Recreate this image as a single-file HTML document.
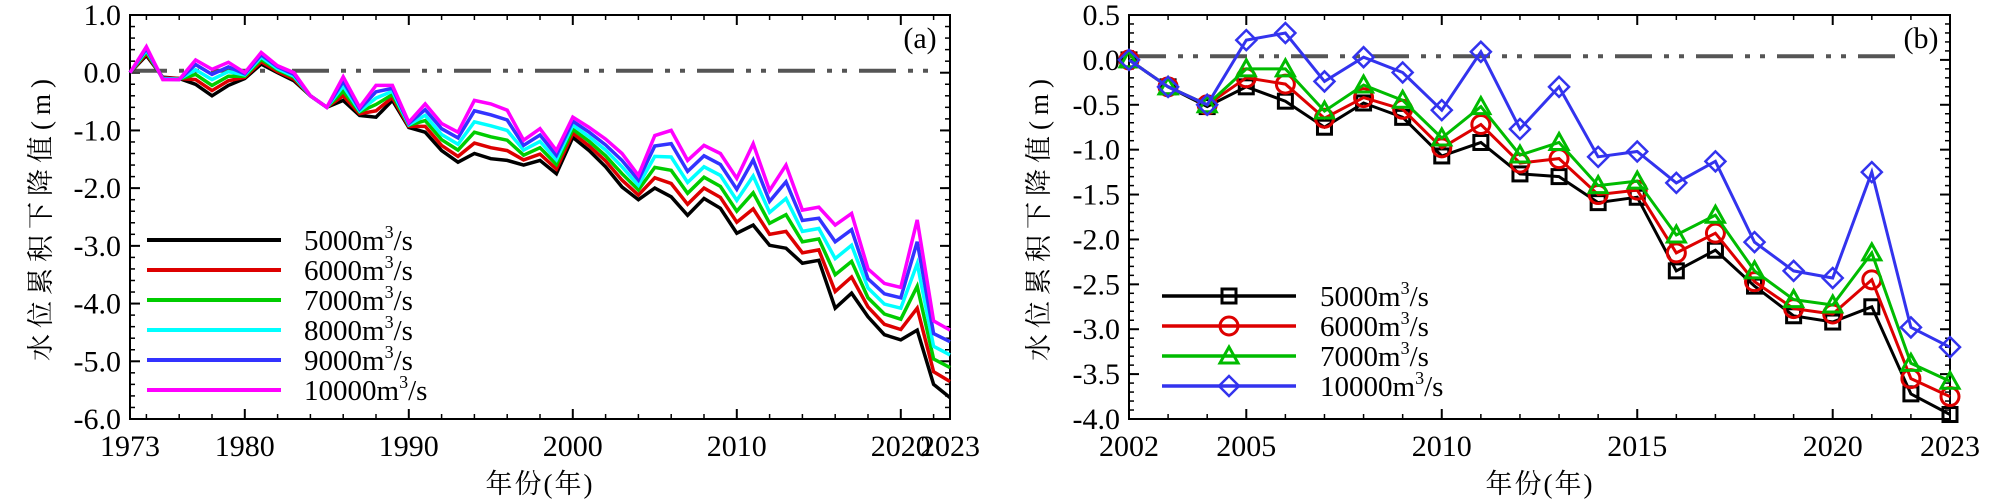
<!DOCTYPE html>
<html><head><meta charset="utf-8"><style>
html,body{margin:0;padding:0;background:#fff;}
svg{display:block;}
svg text{font-family:"Liberation Serif","Noto Serif CJK SC","DejaVu Serif",serif;}
</style></head><body>
<svg id="chart" width="2000" height="500" viewBox="0 0 2000 500"></svg>
<script>
const yearsA=[];for(let y=1973;y<=2023;y++)yearsA.push(y);
const a5000=[0,0.3,-0.08,-0.1,-0.2,-0.4,-0.22,-0.1,0.15,0,-0.14,-0.4,-0.6,-0.48,-0.74,-0.77,-0.48,-0.95,-1.03,-1.35,-1.55,-1.4,-1.49,-1.52,-1.6,-1.52,-1.75,-1.12,-1.35,-1.63,-1.98,-2.2,-2.0,-2.15,-2.47,-2.18,-2.35,-2.78,-2.64,-2.99,-3.04,-3.3,-3.25,-4.08,-3.82,-4.23,-4.54,-4.63,-4.46,-5.4,-5.63];
const a6000=[0,0.33,-0.09,-0.1,-0.12,-0.31,-0.14,-0.08,0.19,0.02,-0.11,-0.4,-0.6,-0.4,-0.71,-0.66,-0.43,-0.93,-0.93,-1.26,-1.45,-1.22,-1.3,-1.35,-1.51,-1.41,-1.67,-1.05,-1.27,-1.53,-1.86,-2.12,-1.82,-1.92,-2.28,-2.0,-2.16,-2.59,-2.36,-2.8,-2.75,-3.12,-3.07,-3.79,-3.54,-4.06,-4.36,-4.45,-4.08,-5.18,-5.35];
const a7000=[0,0.36,-0.1,-0.11,-0.03,-0.22,-0.06,-0.06,0.23,0.05,-0.08,-0.4,-0.6,-0.32,-0.68,-0.55,-0.38,-0.91,-0.83,-1.16,-1.34,-1.03,-1.11,-1.17,-1.43,-1.3,-1.59,-0.98,-1.19,-1.44,-1.75,-2.03,-1.64,-1.69,-2.09,-1.81,-1.97,-2.4,-2.08,-2.61,-2.46,-2.93,-2.88,-3.5,-3.27,-3.9,-4.18,-4.27,-3.7,-4.96,-5.11];
const a8000=[0,0.39,-0.1,-0.11,0.05,-0.12,0.02,-0.04,0.27,0.07,-0.06,-0.4,-0.6,-0.23,-0.66,-0.44,-0.32,-0.9,-0.74,-1.07,-1.24,-0.85,-0.92,-1.0,-1.34,-1.19,-1.51,-0.91,-1.11,-1.34,-1.63,-1.95,-1.45,-1.46,-1.9,-1.63,-1.78,-2.21,-1.79,-2.42,-2.18,-2.75,-2.7,-3.22,-2.99,-3.73,-4.01,-4.08,-3.31,-4.74,-4.89];
const a9000=[0,0.42,-0.11,-0.12,0.14,-0.03,0.1,-0.02,0.31,0.1,-0.03,-0.4,-0.6,-0.15,-0.63,-0.33,-0.27,-0.88,-0.64,-0.97,-1.13,-0.66,-0.73,-0.82,-1.26,-1.08,-1.43,-0.84,-1.03,-1.25,-1.52,-1.86,-1.27,-1.23,-1.71,-1.44,-1.59,-2.02,-1.51,-2.23,-1.89,-2.56,-2.52,-2.93,-2.72,-3.57,-3.83,-3.9,-2.93,-4.52,-4.66];
const a10000=[0,0.45,-0.12,-0.12,0.22,0.06,0.18,0,0.35,0.12,0,-0.4,-0.6,-0.07,-0.6,-0.22,-0.22,-0.86,-0.54,-0.88,-1.03,-0.48,-0.54,-0.65,-1.17,-0.97,-1.35,-0.77,-0.95,-1.15,-1.4,-1.78,-1.09,-1.0,-1.52,-1.26,-1.4,-1.83,-1.23,-2.04,-1.6,-2.38,-2.33,-2.64,-2.44,-3.4,-3.65,-3.72,-2.55,-4.3,-4.46];
const seriesAColors=["#000000","#dd0000","#00cc00","#00ffff","#3333ff","#ff00ff"];
const seriesALabels=["5000","6000","7000","8000","9000","10000"];
const yTicksA=[1,0,-1,-2,-3,-4,-5,-6];
const yTickLabelsA=["1.0","0.0","-1.0","-2.0","-3.0","-4.0","-5.0","-6.0"];
const xTicksA=[1973,1980,1990,2000,2010,2020,2023];

const yearsB=[];for(let y=2002;y<=2023;y++)yearsB.push(y);
const b5000=[0,-0.3,-0.52,-0.3,-0.46,-0.75,-0.48,-0.64,-1.07,-0.92,-1.27,-1.3,-1.59,-1.53,-2.35,-2.12,-2.52,-2.85,-2.92,-2.75,-3.72,-3.95];
const b6000=[0,-0.3,-0.5,-0.2,-0.27,-0.65,-0.42,-0.55,-0.98,-0.72,-1.15,-1.1,-1.5,-1.45,-2.15,-1.93,-2.47,-2.77,-2.83,-2.45,-3.55,-3.75];
const b7000=[0,-0.3,-0.5,-0.1,-0.1,-0.57,-0.28,-0.45,-0.87,-0.52,-1.06,-0.92,-1.4,-1.35,-1.95,-1.73,-2.35,-2.67,-2.73,-2.15,-3.38,-3.58];
const b10000=[0,-0.3,-0.5,0.22,0.3,-0.24,0.03,-0.14,-0.56,0.09,-0.77,-0.3,-1.08,-1.02,-1.37,-1.13,-2.03,-2.35,-2.43,-1.25,-2.98,-3.2];
const seriesBColors=["#000000","#dd0000","#00bb00","#3333ee"];
const seriesBLabels=["5000","6000","7000","10000"];
const seriesBMarkers=["square","circle","triangle","diamond"];
const yTicksB=[0.5,0,-0.5,-1,-1.5,-2,-2.5,-3,-3.5,-4];
const yTickLabelsB=["0.5","0.0","-0.5","-1.0","-1.5","-2.0","-2.5","-3.0","-3.5","-4.0"];
const xTicksB=[2002,2005,2010,2015,2020,2023];

const NS="http://www.w3.org/2000/svg";
const FONT='"Liberation Serif","Noto Serif CJK SC","DejaVu Serif",serif';
const svg=document.getElementById("chart");
function mk(tag,attrs,parent){const e=document.createElementNS(NS,tag);for(const k in attrs)e.setAttribute(k,attrs[k]);if(tag==="text")e.setAttribute("font-family",FONT);(parent||svg).appendChild(e);return e;}

const A={x0:130,x1:950,y0:15,y1:419,ymin:-6,ymax:1,xmin:1973,xmax:2023};
const B={x0:1129,x1:1950,y0:15,y1:419,ymin:-4,ymax:0.5,xmin:2002,xmax:2023};
function sx(P,v){return P.x0+(v-P.xmin)/(P.xmax-P.xmin)*(P.x1-P.x0);}
function sy(P,v){return P.y1-(v-P.ymin)/(P.ymax-P.ymin)*(P.y1-P.y0);}

function drawAxes(P,ytv,ytl,yminor,xtv,xminorStep,xmajorStep,name){
  const g=mk("g",{});
  
  
  for(let v=P.ymin;v<=P.ymax+1e-9;v+=yminor){const y=sy(P,v);mk("line",{x1:P.x0,x2:P.x0+5,y1:y,y2:y,stroke:"#000","stroke-width":1.5},g);mk("line",{x1:P.x1,x2:P.x1-5,y1:y,y2:y,stroke:"#000","stroke-width":1.5},g);}
  ytv.forEach((v,i)=>{const y=sy(P,v);
    mk("line",{x1:P.x0,x2:P.x0+10,y1:y,y2:y,stroke:"#000","stroke-width":2},g);
    mk("line",{x1:P.x1,x2:P.x1-10,y1:y,y2:y,stroke:"#000","stroke-width":2},g);
    const t=mk("text",{x:P.x0-9,y:y+10,"text-anchor":"end","font-size":30},g);t.textContent=ytl[i];
    
    
  });
  for(let v=P.xmin;v<=P.xmax;v++){
    const isMajor=(v%xmajorStep===0);
    if(v%xminorStep!==0&&!isMajor)continue;
    const x=sx(P,v),len=isMajor?10:5;
    mk("line",{x1:x,x2:x,y1:P.y1,y2:P.y1-len,stroke:"#000","stroke-width":isMajor?2:1.5},g);
    mk("line",{x1:x,x2:x,y1:P.y0,y2:P.y0+len,stroke:"#000","stroke-width":isMajor?2:1.5},g);
  }
  xtv.forEach(v=>{const t=mk("text",{x:sx(P,v),y:P.y1+37,"text-anchor":"middle","font-size":30},g);t.textContent=String(v);
    
    });
  const r=mk("rect",{x:P.x0,y:P.y0,width:P.x1-P.x0,height:P.y1-P.y0,fill:"none",stroke:"#000","stroke-width":2},g);
  
  
}
drawAxes(A,yTicksA,yTickLabelsA,0.2,xTicksA,2,10,"panel-a");
drawAxes(B,yTicksB,yTickLabelsB,0.1,xTicksB,1,5,"panel-b");

function refLine(P,xEnd,yv,name){const l=mk("line",{x1:P.x0,x2:xEnd,y1:sy(P,yv),y2:sy(P,yv),stroke:"#555","stroke-width":4,"stroke-dasharray":"37 12 5 10 5 12"});
  
  }
refLine(A,933,0.035,"panel-a-zero-line");
refLine(B,1907,0.04,"panel-b-zero-line");

const seriesA=[a5000,a6000,a7000,a8000,a9000,a10000];
seriesA.forEach((s,k)=>{
  const pts=s.map((v,i)=>sx(A,yearsA[i]).toFixed(1)+","+sy(A,v).toFixed(1)).join(" ");
  const p=mk("polyline",{points:pts,fill:"none",stroke:seriesAColors[k],"stroke-width":3.5,"stroke-linejoin":"miter"});
  
  
});
seriesA.forEach((s,k)=>{
  const y=240+30*k;
  const l=mk("line",{x1:147,x2:281,y1:y,y2:y,stroke:seriesAColors[k],"stroke-width":4});
  
  
  const t=mk("text",{x:304,y:y+10,"font-size":29});
  t.innerHTML=seriesALabels[k]+'m<tspan dy="-12" font-size="18">3</tspan><tspan dy="12">/s</tspan>';
  
  
});

function marker(type,x,y,color,parent){
  if(type==="square")return mk("rect",{x:x-7,y:y-7,width:14,height:14,fill:"none",stroke:color,"stroke-width":3},parent);
  if(type==="circle")return mk("circle",{cx:x,cy:y,r:9,fill:"none",stroke:color,"stroke-width":3},parent);
  if(type==="triangle")return mk("polygon",{points:`${x},${y-9} ${x-9},${y+7} ${x+9},${y+7}`,fill:"none",stroke:color,"stroke-width":3},parent);
  return mk("polygon",{points:`${x},${y-10} ${x+10},${y} ${x},${y+10} ${x-10},${y}`,fill:"none",stroke:color,"stroke-width":2.5},parent);
}
const seriesB=[b5000,b6000,b7000,b10000];
seriesB.forEach((s,k)=>{
  const g=mk("g",{});
  
  
  const pts=s.map((v,i)=>sx(B,yearsB[i]).toFixed(1)+","+sy(B,v).toFixed(1)).join(" ");
  mk("polyline",{points:pts,fill:"none",stroke:seriesBColors[k],"stroke-width":3},g);
  s.forEach((v,i)=>{const m=marker(seriesBMarkers[k],sx(B,yearsB[i]),sy(B,v),seriesBColors[k],g);
    
    });
});
seriesB.forEach((s,k)=>{
  const y=296+30*k;
  const g=mk("g",{});
  
  
  mk("line",{x1:1162,x2:1296,y1:y,y2:y,stroke:seriesBColors[k],"stroke-width":3.5},g);
  marker(seriesBMarkers[k],1229,y,seriesBColors[k],g);
  const t=mk("text",{x:1320,y:y+10,"font-size":29},g);
  t.innerHTML=seriesBLabels[k]+'m<tspan dy="-12" font-size="18">3</tspan><tspan dy="12">/s</tspan>';
});

function txt(x,y,s,attrs,name){const t=mk("text",Object.assign({x:x,y:y},attrs));t.textContent=s;
  
  return t;}
txt(920,48,"(a)",{"font-size":30,"text-anchor":"middle"},"panel-a-tag");
txt(1921,48,"(b)",{"font-size":30,"text-anchor":"middle"},"panel-b-tag");
txt(540,493,"年份(年)",{"font-size":27,"text-anchor":"middle","letter-spacing":"2"},"panel-a-x-axis-title");
txt(1540,493,"年份(年)",{"font-size":27,"text-anchor":"middle","letter-spacing":"2"},"panel-b-x-axis-title");
txt(0,0,"水位累积下降值(m)",{"font-size":27,"text-anchor":"middle","letter-spacing":"6",transform:"translate(50,217) rotate(-90)"},"panel-a-y-axis-title");
txt(0,0,"水位累积下降值(m)",{"font-size":27,"text-anchor":"middle","letter-spacing":"6",transform:"translate(1048,217) rotate(-90)"},"panel-b-y-axis-title");
</script>
</body></html>
